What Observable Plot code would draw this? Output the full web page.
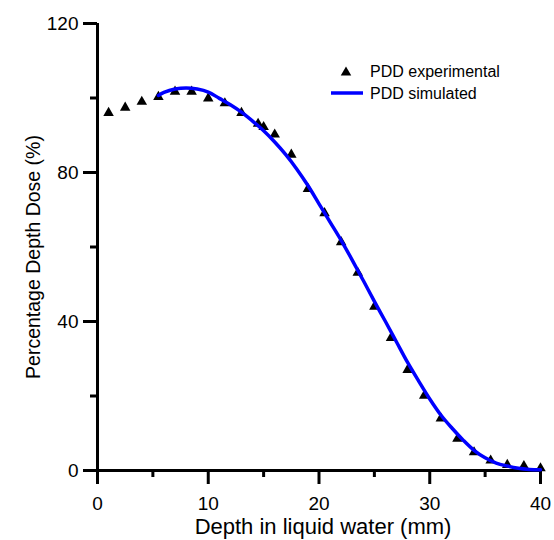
<!DOCTYPE html>
<html>
<head>
<meta charset="utf-8">
<script src="https://cdn.jsdelivr.net/npm/d3@7"></script>
<script src="https://cdn.jsdelivr.net/npm/@observablehq/plot@0.6"></script>
<style>
  html, body { margin: 0; padding: 0; background: #fff; }
  svg { display: block; }
</style>
</head>
<body>
<div id="chart"></div>
<script>
// Experimental PDD (triangles)
const expDepth = [1, 2.5, 4, 5.5, 7, 8.5, 10, 11.5, 13, 14.5, 15, 16, 17.5, 19, 20.5, 22, 23.5, 25, 26.5, 28, 29.5, 31, 32.5, 34, 35.5, 37, 38.5, 40];
const expDose  = [96.0, 97.4, 99.0, 100.3, 101.7, 101.7, 99.9, 98.6, 96.0, 93.1, 92.2, 90.2, 84.8, 75.6, 69.1, 61.3, 53.1, 44.0, 35.6, 27.0, 20.1, 14.0, 8.5, 4.9, 2.7, 1.5, 1.2, 0.6];

// Simulated PDD (blue line)
const simDepth = [5.5, 6, 7, 8, 9, 10, 11, 12, 13, 14, 15, 16, 17, 18, 19, 20, 21, 22, 23, 24, 25, 26, 27, 28, 29, 30, 31, 32, 33, 34, 35, 36, 37, 38, 39, 40];
const simDose  = [100.7, 101.5, 102.4, 102.7, 102.4, 101.6, 99.9, 98.2, 96.2, 93.8, 91.2, 88.2, 84.8, 80.9, 76.5, 71.6, 66.7, 61.8, 56.5, 51.0, 45.4, 40.0, 34.5, 29.0, 24.0, 19.2, 14.9, 11.4, 8.2, 5.4, 3.4, 2.0, 1.2, 0.6, 0.3, 0.2];

// Axis ticks
const xMajor = [0, 10, 20, 30, 40];
const xMinor = [5, 15, 25, 35];
const yMajor = [0, 40, 80, 120];
const yMinor = [20, 60, 100];

const xTitle = "Depth in liquid water (mm)";
const yTitle = "Percentage Depth Dose (%)";
const legendLabels = ["PDD experimental", "PDD simulated"];

const font = "Arial, 'Liberation Sans', Helvetica, sans-serif";

const expData = expDepth.map((d, i) => ({depth: d, dose: expDose[i]}));
const simData = simDepth.map((d, i) => ({depth: d, dose: simDose[i]}));

const svg = Plot.plot({
  width: 554,
  height: 540,
  marginLeft: 97,
  marginRight: 14,
  marginTop: 23,
  marginBottom: 70,
  style: {fontFamily: font, background: "white", color: "black"},
  x: {domain: [0, 40]},
  y: {domain: [0, 120]},
  marks: [
    Plot.ruleX([0], {strokeWidth: 3}),
    Plot.ruleY([0], {strokeWidth: 3}),
    Plot.axisX(xMajor, {tickSize: 14, strokeWidth: 3, tickPadding: 12, fontSize: 19, label: null, tickFormat: d => String(d)}),
    Plot.axisX(xMinor, {tickSize: 7, strokeWidth: 3, label: null, tickFormat: () => ""}),
    Plot.axisY(yMajor, {tickSize: 14, strokeWidth: 3, tickPadding: 5, fontSize: 19, label: null, tickFormat: d => String(d)}),
    Plot.axisY(yMinor, {tickSize: 7, strokeWidth: 3, label: null, tickFormat: () => ""}),
    Plot.dot(expData, {x: "depth", y: "dose", symbol: "triangle", r: 3.9, fill: "black", stroke: "none"}),
    Plot.line(simData, {x: "depth", y: "dose", stroke: "#0000ff", strokeWidth: 3.5, curve: "catmull-rom"}),
    Plot.text([xTitle], {frameAnchor: "bottom", textAnchor: "middle", dx: 4, dy: 56, fontSize: 22, lineAnchor: "middle"}),
    Plot.text([yTitle], {frameAnchor: "left", textAnchor: "middle", rotate: -90, dx: -64, dy: 10, fontSize: 19.5, lineAnchor: "middle"})
  ]
});

// Legend (top-right, inside the frame)
const g = d3.select(svg).append("g")
  .attr("font-family", font).attr("font-size", 16).attr("text-anchor", "start");
g.append("path")
  .attr("d", d3.symbol(d3.symbolTriangle, 48)())
  .attr("transform", "translate(346,72.5)")
  .attr("fill", "black");
g.append("text").attr("x", 370).attr("y", 71).attr("dy", "0.35em").text(legendLabels[0]);
g.append("line").attr("x1", 331).attr("x2", 363).attr("y1", 93).attr("y2", 93)
  .attr("stroke", "#0000ff").attr("stroke-width", 3.5);
g.append("text").attr("x", 370).attr("y", 93).attr("dy", "0.35em").text(legendLabels[1]);

document.getElementById("chart").appendChild(svg);
</script>
</body>
</html>
